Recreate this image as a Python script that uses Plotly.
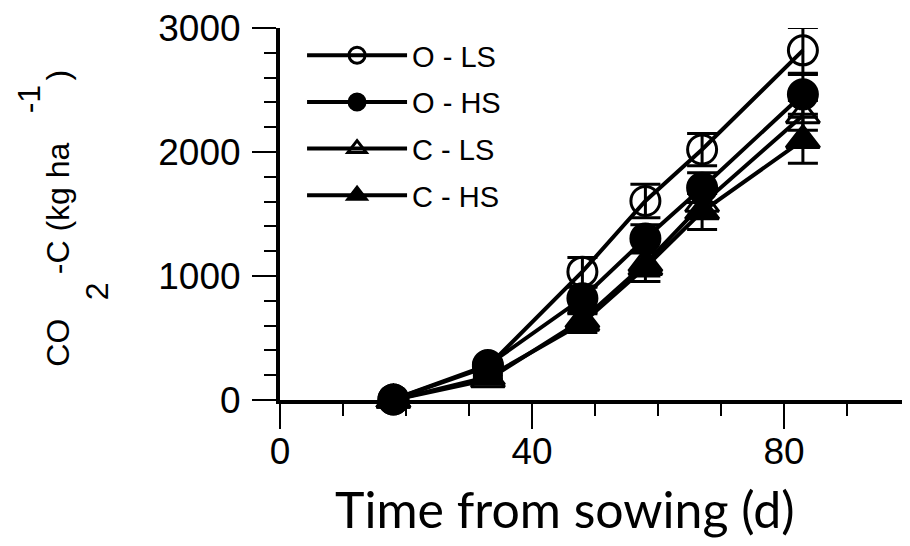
import plotly.graph_objects as go

days = [18, 33, 48, 58, 67, 83]

o_ls = [5, 270, 1035, 1605, 2020, 2820]
o_ls_err = [10, 30, 115, 135, 130, 185]

o_hs = [5, 282, 820, 1303, 1712, 2465]
o_hs_err = [10, 30, 90, 110, 120, 160]

c_ls = [0, 165, 645, 1100, 1580, 2295]
c_ls_err = [10, 20, 60, 100, 90, 120]

c_hs = [0, 185, 620, 1070, 1520, 2095]
c_hs_err = [10, 20, 75, 115, 145, 185]

series = [
    ("C - HS", c_hs, c_hs_err, "triangle-up", 4),
    ("C - LS", c_ls, c_ls_err, "triangle-up-open", 3),
    ("O - HS", o_hs, o_hs_err, "circle", 2),
    ("O - LS", o_ls, o_ls_err, "circle-open", 1),
]

fig = go.Figure()
for name, vals, errs, sym, rank in series:
    fig.add_trace(go.Scatter(
        x=days, y=vals, name=name, mode="lines+markers",
        line=dict(color="black", width=4),
        marker=dict(symbol=sym, size=29, color="black",
                    line=dict(color="black", width=3)),
        error_y=dict(type="data", array=errs, visible=True,
                     color="black", thickness=3, width=15),
        legendrank=rank, legendgroup=name, cliponaxis=False,
    ))

tickfont = dict(family="Liberation Sans, Arial, sans-serif", size=37, color="black")
titlefont = dict(family="Liberation Sans, Arial, sans-serif", size=32, color="black")
nb = "\u00a0"

fig.update_layout(
    width=902, height=538,
    margin=dict(l=272, r=0, t=17, b=146),
    paper_bgcolor="white", plot_bgcolor="white",
    showlegend=True,
    legend=dict(x=0.035, y=0.995, xanchor="left", yanchor="top",
                bgcolor="rgba(0,0,0,0)", tracegroupgap=6, itemwidth=100,
                font=dict(family="Liberation Sans, Arial, sans-serif", size=29, color="black")),
    xaxis=dict(range=[0, 100], tickvals=[0, 40, 80], ticks="outside",
               ticklen=25, tickwidth=2, tickcolor="black", ticklabelstandoff=-9,
               ticklabeloverflow="allow",
               minor=dict(dtick=10, ticks="outside", ticklen=12, tickwidth=2, tickcolor="black"),
               showline=True, linewidth=4, linecolor="black",
               showgrid=False, zeroline=False, tickfont=tickfont),
    yaxis=dict(range=[0, 3000], tickvals=[0, 1000, 2000, 3000], ticks="outside",
               ticklen=24, tickwidth=2, tickcolor="black", ticklabelstandoff=4,
               ticklabeloverflow="allow",
               minor=dict(dtick=200, ticks="outside", ticklen=12, tickwidth=2, tickcolor="black"),
               showline=True, linewidth=4, linecolor="black",
               showgrid=False, zeroline=False, tickfont=tickfont),
    annotations=[
        dict(text="Time from sowing (d)", xref="paper", yref="paper",
             x=0.452, y=-0.293, xanchor="center", yanchor="middle", showarrow=False,
             font=dict(family="Lato, Open Sans, sans-serif", size=50, color="black")),
        dict(text="CO" + nb * 5 + "-C (kg ha" + nb * 7 + ")",
             xref="paper", yref="paper",
             x=-0.352, y=0.488, xanchor="center", yanchor="middle", showarrow=False,
             textangle=-90, font=titlefont),
        dict(text="2", xref="paper", yref="paper",
             x=-0.29, y=0.293, xanchor="center", yanchor="middle", showarrow=False,
             textangle=-90, font=titlefont),
        dict(text="-1", xref="paper", yref="paper",
             x=-0.397, y=0.808, xanchor="center", yanchor="middle", showarrow=False,
             textangle=-90, font=titlefont),
    ],
)

fig.write_html("out.html")
